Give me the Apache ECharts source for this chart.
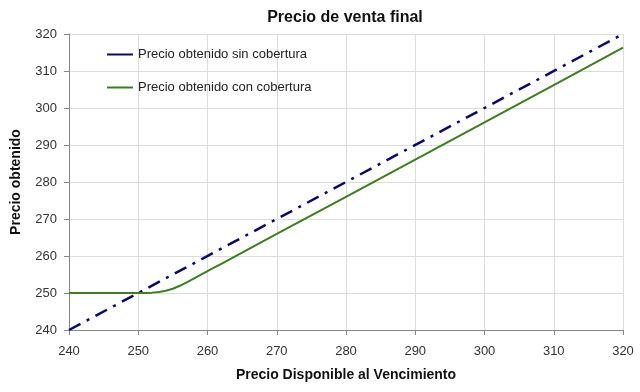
<!DOCTYPE html>
<html><head><meta charset="utf-8">
<script src="https://cdn.jsdelivr.net/npm/echarts@6/dist/echarts.min.js"></script>
<style>html,body{margin:0;padding:0;background:#fff}#c{width:640px;height:392px}</style>
</head><body><div id="c"></div>
<script>
var titleText = "Precio de venta final";
var xName = "Precio Disponible al Vencimiento";
var yName = "Precio obtenido";
var seriesNames = ["Precio obtenido sin cobertura", "Precio obtenido con cobertura"];
var sinX = [240, 320];
var sinY = [240, 320];
var conX = [240, 245, 250, 251, 252, 253, 254, 255, 256, 257, 258, 259, 260, 261, 262, 270, 280, 290, 300, 310, 320];
var conY = [250, 250, 250, 250.02, 250.1, 250.3, 250.6, 251.15, 251.95, 252.9, 253.9, 254.9, 255.9, 256.9, 257.9, 265.95, 276, 286.05, 296.1, 306.2, 316.3];

function pairs(xs, ys){ return xs.map(function(x,i){ return [x, ys[i]]; }); }

var chart = echarts.init(document.getElementById('c'));
chart.setOption({
  animation: false,
  backgroundColor: '#fff',
  textStyle: {fontFamily: 'Liberation Sans, Arial, sans-serif'},
  title: {text: titleText, left: 340, textAlign: 'center', top: 5,
    textStyle: {fontSize: 16, fontWeight: 'bold', color: '#111', fontFamily: 'Liberation Sans, Arial, sans-serif'}},
  grid: {left: 69, right: 17, top: 34, bottom: 62, containLabel: false, outerBoundsMode: 'none'},
  legend: {orient: 'vertical', left: 102, top: 43, itemGap: 20, itemWidth: 26, itemHeight: 10,
    textStyle: {fontSize: 13, color: '#222'},
    data: [{name: seriesNames[0], icon: 'path://M0,4H26V6H0Z'}, {name: seriesNames[1], icon: 'path://M0,4H26V6H0Z'}]},
  xAxis: {type: 'value', min: 240, max: 320, interval: 10, name: xName, nameLocation: 'middle', nameGap: 38,
    nameTextStyle: {fontSize: 14, fontWeight: 'bold', color: '#111'},
    axisLine: {lineStyle: {color: '#888'}}, axisTick: {show: true, length: 5, lineStyle: {color: '#888'}},
    axisLabel: {fontSize: 13, color: '#333', margin: 15},
    splitLine: {show: true, lineStyle: {color: '#dcdcdc'}}},
  yAxis: {type: 'value', min: 240, max: 320, interval: 10, name: yName, nameLocation: 'middle', nameGap: 46,
    nameTextStyle: {fontSize: 14, fontWeight: 'bold', color: '#111'},
    axisLine: {show: true, lineStyle: {color: '#888'}}, axisTick: {show: true, length: 5, lineStyle: {color: '#888'}},
    axisLabel: {fontSize: 13, color: '#333', margin: 12},
    splitLine: {show: true, lineStyle: {color: '#dcdcdc'}}},
  series: [
    {name: seriesNames[0], type: 'line', data: pairs(sinX, sinY), showSymbol: false, symbol: 'none',
      itemStyle: {color: '#0a0a6e'},
      lineStyle: {color: '#0a0a6e', width: 2.5, type: [13, 7, 3, 7]}},
    {name: seriesNames[1], type: 'line', data: pairs(conX, conY), showSymbol: false, symbol: 'none', smooth: false,
      itemStyle: {color: '#3b7f1e'},
      lineStyle: {color: '#3b7f1e', width: 2, join: 'round'}}
  ]
});
</script></body></html>
